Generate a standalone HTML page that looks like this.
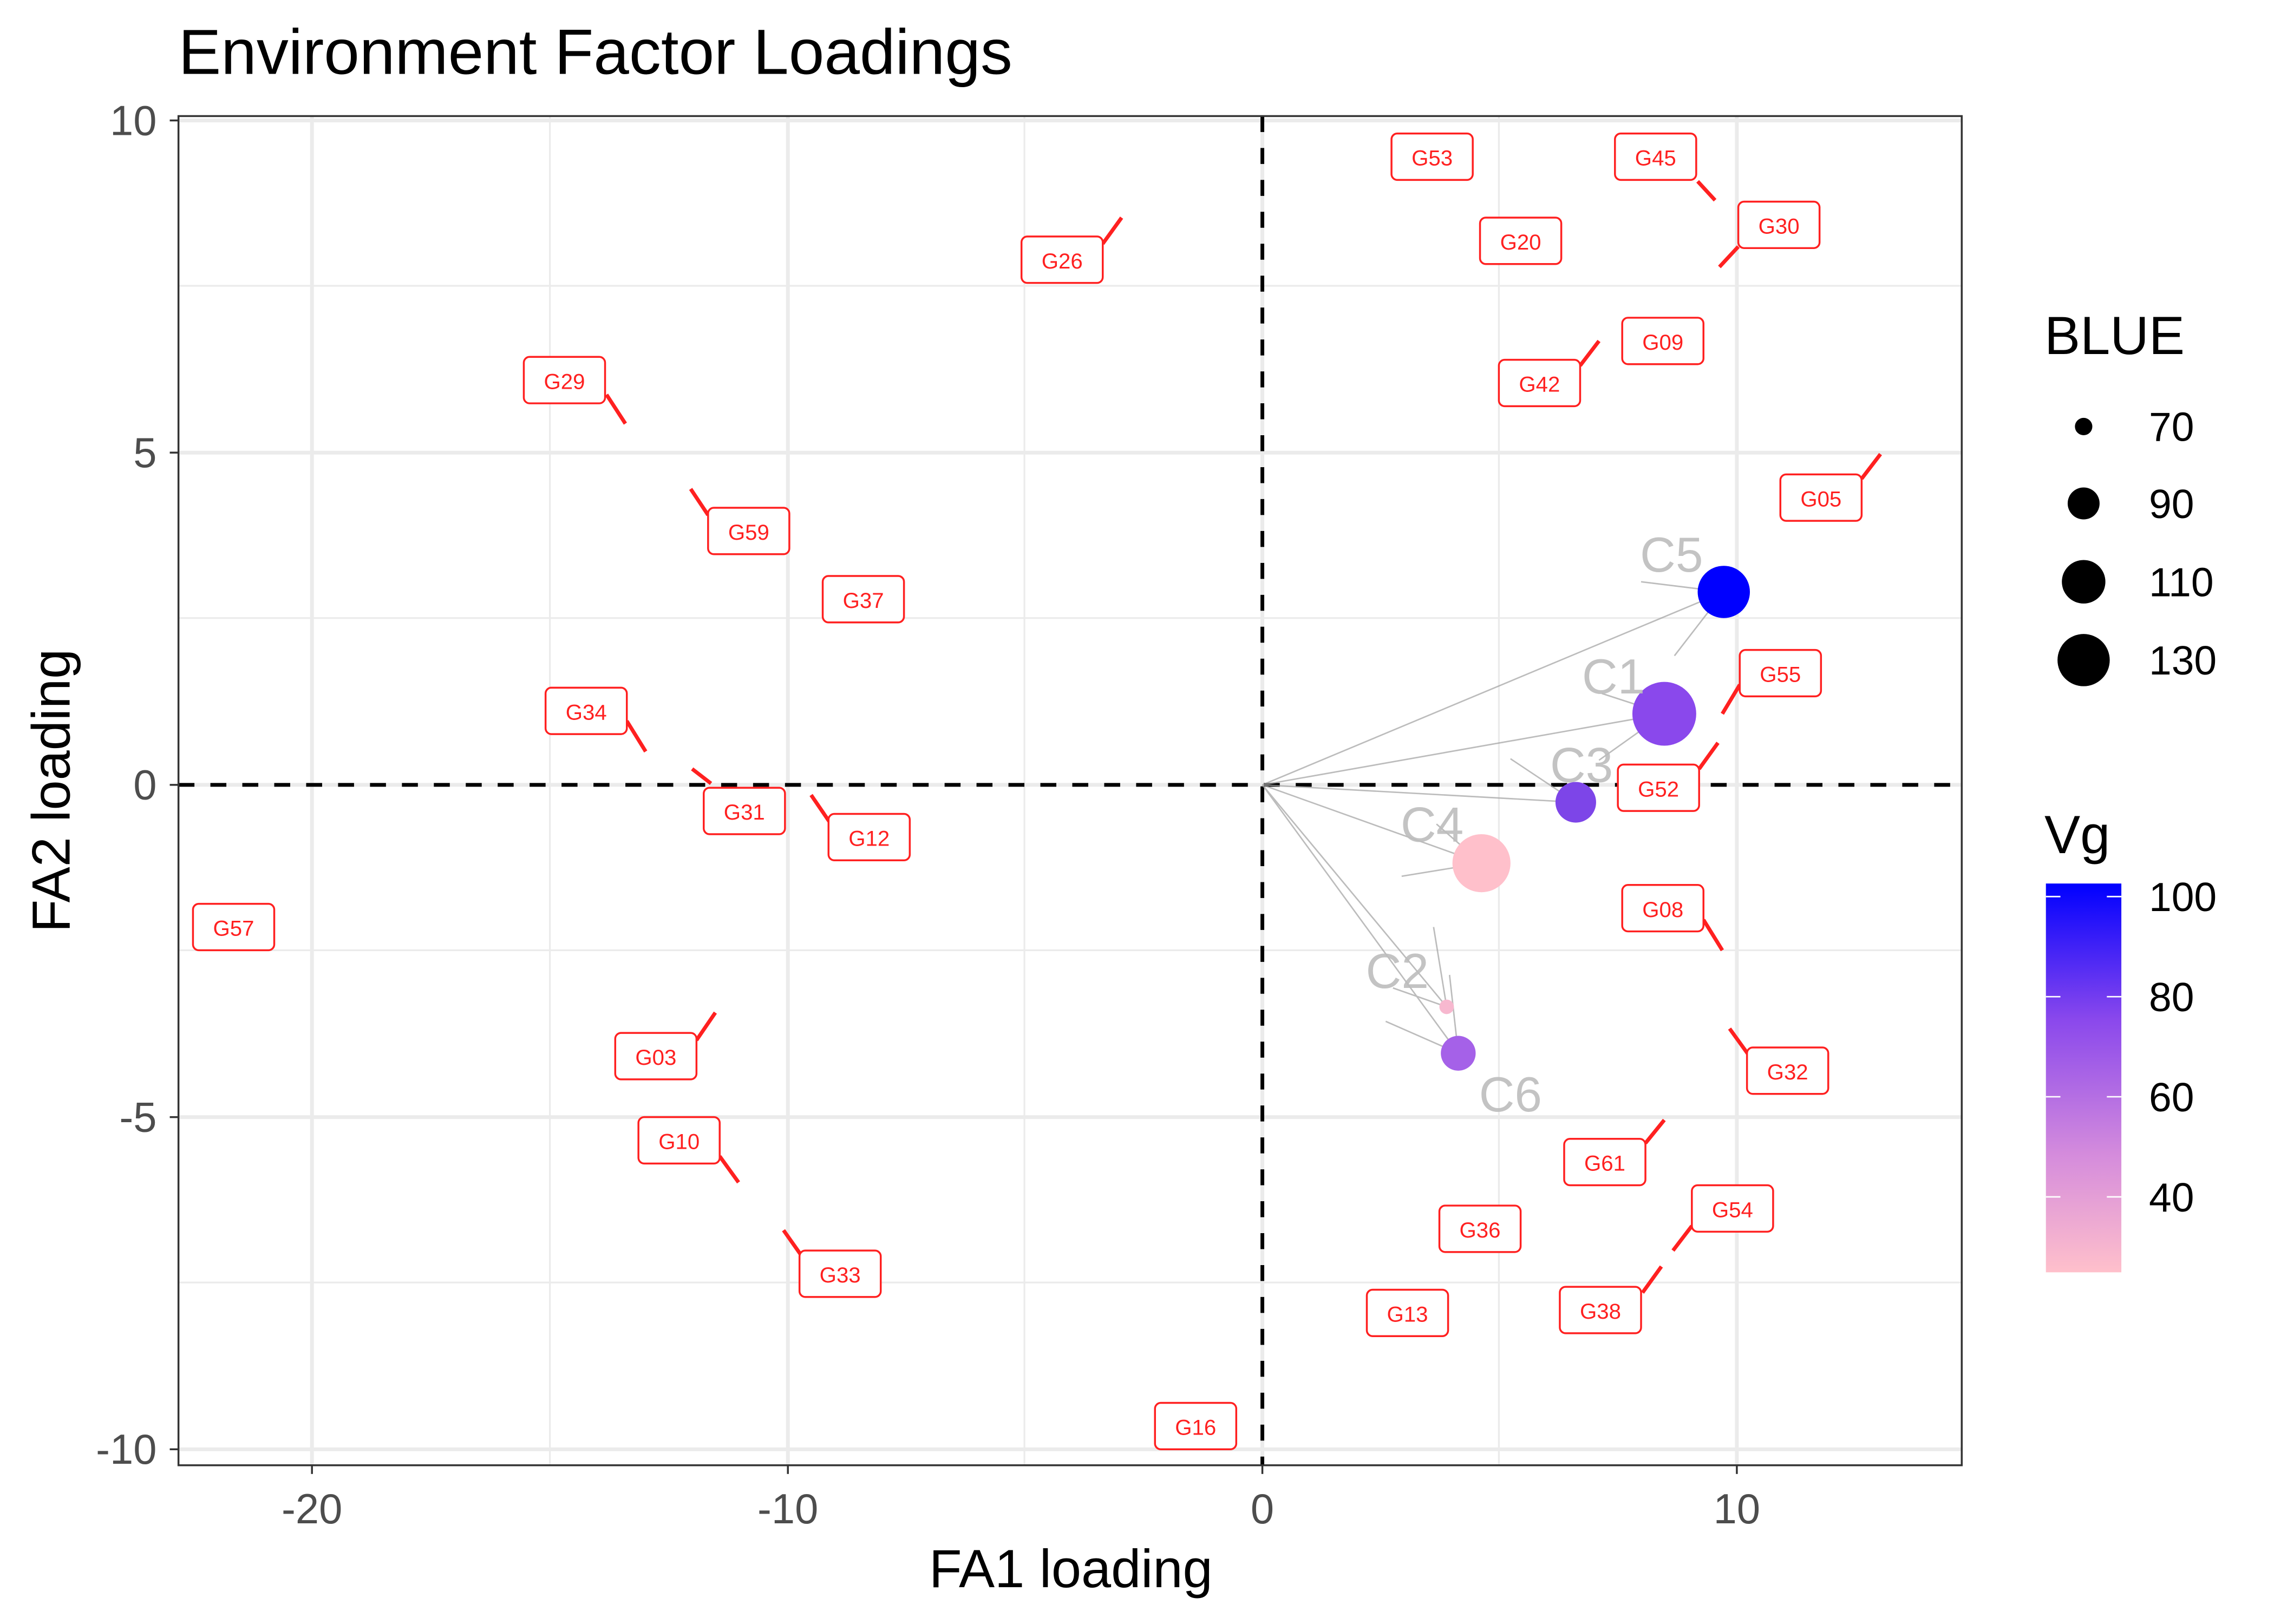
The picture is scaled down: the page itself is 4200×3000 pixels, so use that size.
<!DOCTYPE html>
<html><head><meta charset="utf-8"><style>html,body{margin:0;padding:0;background:#fff}svg{display:block}</style></head>
<body>
<svg width="4200" height="3000" viewBox="0 0 1567.2 1119.4" xmlns="http://www.w3.org/2000/svg" font-family="Liberation Sans, sans-serif">
<defs><linearGradient id="vg" x1="0" y1="0" x2="0" y2="1"><stop offset="0" stop-color="#0000ff"/><stop offset="0.35" stop-color="#8a48ec"/><stop offset="0.7" stop-color="#d58cdc"/><stop offset="1" stop-color="#ffc0cb"/></linearGradient></defs>
<rect width="1567.2" height="1119.4" fill="#fff"/>
<text x="123" y="51" font-size="44" fill="#000">Environment Factor Loadings</text>
<g stroke="#ebebeb" stroke-width="1.2">
<line x1="379" y1="80" x2="379" y2="1010"/><line x1="706" y1="80" x2="706" y2="1010"/><line x1="1033" y1="80" x2="1033" y2="1010"/>
<line x1="123" y1="197" x2="1352" y2="197"/><line x1="123" y1="426" x2="1352" y2="426"/><line x1="123" y1="655" x2="1352" y2="655"/><line x1="123" y1="884" x2="1352" y2="884"/>
</g>
<g stroke="#ebebeb" stroke-width="2.6">
<line x1="215" y1="80" x2="215" y2="1010"/><line x1="543" y1="80" x2="543" y2="1010"/><line x1="870" y1="80" x2="870" y2="1010"/><line x1="1197" y1="80" x2="1197" y2="1010"/>
<line x1="123" y1="83" x2="1352" y2="83"/><line x1="123" y1="312" x2="1352" y2="312"/><line x1="123" y1="541" x2="1352" y2="541"/><line x1="123" y1="770" x2="1352" y2="770"/><line x1="123" y1="999" x2="1352" y2="999"/>
</g>
<g stroke="#000" stroke-width="2.6" stroke-dasharray="11,11">
<line x1="123" y1="541" x2="1352" y2="541"/><line x1="870" y1="80" x2="870" y2="1010"/>
</g>
<g stroke="#a0a0a0" stroke-width="1" opacity="0.7">
<line x1="870" y1="541" x2="1188" y2="408"/><line x1="870" y1="541" x2="1147" y2="492"/><line x1="870" y1="541" x2="1086" y2="553"/><line x1="870" y1="541" x2="1021" y2="595"/><line x1="870" y1="541" x2="997" y2="694"/><line x1="870" y1="541" x2="1005" y2="726"/>
<line x1="1188" y1="408" x2="1131" y2="401"/><line x1="1188" y1="408" x2="1154" y2="452"/>
<line x1="1147" y1="492" x2="1104" y2="478"/><line x1="1147" y1="492" x2="1102" y2="524"/>
<line x1="1086" y1="553" x2="1041" y2="523"/><line x1="1021" y1="595" x2="966" y2="604"/>
<line x1="1021" y1="595" x2="990" y2="568"/>
<line x1="997" y1="694" x2="960" y2="681"/><line x1="997" y1="694" x2="988" y2="639"/>
<line x1="1005" y1="726" x2="955" y2="704"/><line x1="1005" y1="726" x2="999" y2="672"/>
</g>
<circle cx="1188" cy="408" r="18" fill="#0000ff"/>
<circle cx="1147" cy="492" r="22" fill="#8a48ec"/>
<circle cx="1086" cy="553" r="14" fill="#7d45e8"/>
<circle cx="1021" cy="595" r="20" fill="#ffc0cb"/>
<circle cx="997" cy="694" r="5" fill="#f7b8cf"/>
<circle cx="1005" cy="726" r="12" fill="#a561e8"/>
<g font-size="34" fill="#bdbdbd" text-anchor="middle" opacity="0.9">
<text x="1152" y="394">C5</text><text x="1112" y="478">C1</text><text x="1090" y="539">C3</text><text x="987" y="580">C4</text><text x="963" y="681">C2</text><text x="1041" y="766">C6</text>
</g>
<g stroke="#ff2020" stroke-width="2.6">
<line x1="760" y1="168" x2="773" y2="150"/><line x1="1170" y1="125" x2="1182" y2="138"/><line x1="1198" y1="170" x2="1185" y2="184"/>
<line x1="1089" y1="252" x2="1102" y2="235"/><line x1="418" y1="272" x2="431" y2="292"/><line x1="1283" y1="330" x2="1296" y2="313"/>
<line x1="488" y1="355" x2="476" y2="337"/><line x1="432" y1="497" x2="445" y2="518"/><line x1="1199" y1="472" x2="1187" y2="492"/>
<line x1="1171" y1="530" x2="1184" y2="512"/><line x1="490" y1="540" x2="477" y2="530"/><line x1="572" y1="567" x2="559" y2="548"/>
<line x1="1174" y1="634" x2="1187" y2="655"/><line x1="480" y1="717" x2="493" y2="698"/><line x1="1205" y1="727" x2="1192" y2="709"/>
<line x1="496" y1="797" x2="509" y2="815"/><line x1="1134" y1="788" x2="1147" y2="772"/><line x1="1166" y1="845" x2="1153" y2="862"/>
<line x1="552" y1="865" x2="540" y2="848"/><line x1="1132" y1="891" x2="1145" y2="873"/>
</g>
<g fill="#fff" stroke="#ff2020" stroke-width="1.3">
<rect x="959" y="92" width="56" height="32" rx="4"/><rect x="1113" y="92" width="56" height="32" rx="4"/><rect x="1198" y="139" width="56" height="32" rx="4"/>
<rect x="1020" y="150" width="56" height="32" rx="4"/><rect x="704" y="163" width="56" height="32" rx="4"/><rect x="1118" y="219" width="56" height="32" rx="4"/>
<rect x="1033" y="248" width="56" height="32" rx="4"/><rect x="361" y="246" width="56" height="32" rx="4"/><rect x="1227" y="327" width="56" height="32" rx="4"/>
<rect x="488" y="350" width="56" height="32" rx="4"/><rect x="567" y="397" width="56" height="32" rx="4"/><rect x="376" y="474" width="56" height="32" rx="4"/>
<rect x="1199" y="448" width="56" height="32" rx="4"/><rect x="1115" y="527" width="56" height="32" rx="4"/><rect x="485" y="543" width="56" height="32" rx="4"/>
<rect x="571" y="561" width="56" height="32" rx="4"/><rect x="133" y="623" width="56" height="32" rx="4"/><rect x="1118" y="610" width="56" height="32" rx="4"/>
<rect x="424" y="712" width="56" height="32" rx="4"/><rect x="1204" y="722" width="56" height="32" rx="4"/><rect x="440" y="770" width="56" height="32" rx="4"/>
<rect x="1078" y="785" width="56" height="32" rx="4"/><rect x="992" y="831" width="56" height="32" rx="4"/><rect x="1166" y="817" width="56" height="32" rx="4"/>
<rect x="551" y="862" width="56" height="32" rx="4"/><rect x="942" y="889" width="56" height="32" rx="4"/><rect x="1075" y="887" width="56" height="32" rx="4"/>
<rect x="796" y="967" width="56" height="32" rx="4"/>
</g>
<g font-size="15" fill="#ff2020" text-anchor="middle">
<text x="987" y="114">G53</text><text x="1141" y="114">G45</text><text x="1226" y="161">G30</text>
<text x="1048" y="172">G20</text><text x="732" y="185">G26</text><text x="1146" y="241">G09</text>
<text x="1061" y="270">G42</text><text x="389" y="268">G29</text><text x="1255" y="349">G05</text>
<text x="516" y="372">G59</text><text x="595" y="419">G37</text><text x="404" y="496">G34</text>
<text x="1227" y="470">G55</text><text x="1143" y="549">G52</text><text x="513" y="565">G31</text>
<text x="599" y="583">G12</text><text x="161" y="645">G57</text><text x="1146" y="632">G08</text>
<text x="452" y="734">G03</text><text x="1232" y="744">G32</text><text x="468" y="792">G10</text>
<text x="1106" y="807">G61</text><text x="1020" y="853">G36</text><text x="1194" y="839">G54</text>
<text x="579" y="884">G33</text><text x="970" y="911">G13</text><text x="1103" y="909">G38</text>
<text x="824" y="989">G16</text>
</g>
<rect x="123" y="80" width="1229" height="930" fill="none" stroke="#333" stroke-width="1.3"/>
<g stroke="#333" stroke-width="1.3">
<line x1="117" y1="83" x2="123" y2="83"/><line x1="117" y1="312" x2="123" y2="312"/><line x1="117" y1="541" x2="123" y2="541"/><line x1="117" y1="770" x2="123" y2="770"/><line x1="117" y1="999" x2="123" y2="999"/>
<line x1="215" y1="1010" x2="215" y2="1016"/><line x1="543" y1="1010" x2="543" y2="1016"/><line x1="870" y1="1010" x2="870" y2="1016"/><line x1="1197" y1="1010" x2="1197" y2="1016"/>
</g>
<g font-size="29" fill="#4d4d4d" text-anchor="end">
<text x="108" y="93">10</text><text x="108" y="322">5</text><text x="108" y="551">0</text><text x="108" y="780">-5</text><text x="108" y="1009">-10</text>
</g>
<g font-size="29" fill="#4d4d4d" text-anchor="middle">
<text x="215" y="1050">-20</text><text x="543" y="1050">-10</text><text x="870" y="1050">0</text><text x="1197" y="1050">10</text>
</g>
<text x="738" y="1094" font-size="37" text-anchor="middle" fill="#000">FA1 loading</text>
<text x="0" y="0" font-size="37" text-anchor="middle" fill="#000" transform="translate(48,545) rotate(-90)">FA2 loading</text>
<text x="1409" y="244" font-size="37" fill="#000">BLUE</text>
<circle cx="1436" cy="294" r="6" fill="#000"/><circle cx="1436" cy="347" r="11" fill="#000"/><circle cx="1436" cy="401" r="15" fill="#000"/><circle cx="1436" cy="455" r="18" fill="#000"/>
<g font-size="28" fill="#000">
<text x="1481" y="304">70</text><text x="1481" y="357">90</text><text x="1481" y="411">110</text><text x="1481" y="465">130</text>
</g>
<text x="1409" y="588" font-size="37" fill="#000">Vg</text>
<rect x="1410" y="609" width="52" height="268" fill="url(#vg)"/>
<g stroke="#fff" stroke-width="1">
<line x1="1410" y1="618" x2="1420" y2="618"/><line x1="1452" y1="618" x2="1462" y2="618"/>
<line x1="1410" y1="687" x2="1420" y2="687"/><line x1="1452" y1="687" x2="1462" y2="687"/>
<line x1="1410" y1="756" x2="1420" y2="756"/><line x1="1452" y1="756" x2="1462" y2="756"/>
<line x1="1410" y1="825" x2="1420" y2="825"/><line x1="1452" y1="825" x2="1462" y2="825"/>
</g>
<g font-size="28" fill="#000">
<text x="1481" y="628">100</text><text x="1481" y="697">80</text><text x="1481" y="766">60</text><text x="1481" y="835">40</text>
</g>
</svg>
</body></html>
